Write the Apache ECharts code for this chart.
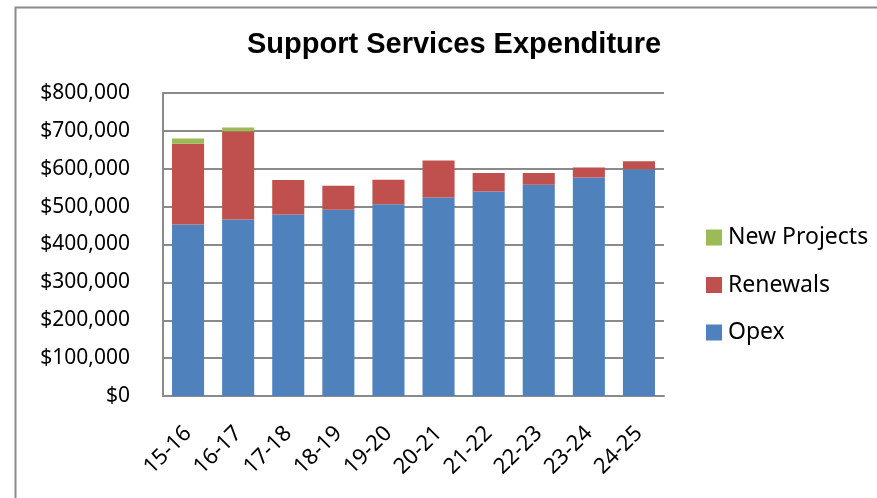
<!DOCTYPE html>
<html>
<head>
<meta charset="utf-8">
<script src="https://cdn.jsdelivr.net/npm/echarts@6/dist/echarts.min.js"></script>
<style>
html,body{margin:0;padding:0;background:#fff;}
#c{width:877px;height:498px;}
</style>
</head>
<body>
<div id="c"></div>
<script>
var categories = ['15-16','16-17','17-18','18-19','19-20','20-21','21-22','22-23','23-24','24-25'];
var opex = [453000, 466000, 479000, 492000, 506000, 524000, 540000, 558000, 577000, 599000];
var renewals = [213000, 233000, 91000, 63000, 65000, 98000, 49000, 31000, 26000, 21000];
var newProjects = [14000, 10000, 0, 0, 0, 0, 0, 0, 0, 0];
var yTicks = [0, 100000, 200000, 300000, 400000, 500000, 600000, 700000, 800000];

var FONT = 'Noto Sans';
var chart = echarts.init(document.getElementById('c'), null, {renderer:'canvas'});
function fmt(v){ return '$' + v.toLocaleString('en-US'); }
chart.setOption({
  animation:false,
  backgroundColor:'#ffffff',
  title:{
    text:'Support Services Expenditure',
    left:247,
    top:30,
    padding:0,
    textStyle:{fontFamily:'Liberation Sans', fontWeight:'bold', fontSize:29, color:'#000'}
  },
  graphic:[{
    type:'rect', left:13, top:5, silent:true,
    shape:{x:0,y:0,width:900,height:600},
    style:{fill:'none', stroke:'#8a8a8a', lineWidth:2}
  }],
  legend:{
    orient:'vertical',
    left:706, top:226, padding:0,
    itemWidth:16, itemHeight:16, itemGap:24.5,
    icon:'rect',
    textStyle:{fontFamily:FONT, fontSize:23, color:'#000', padding:[0,0,0,1]},
    data:['New Projects','Renewals','Opex']
  },
  grid:{left:163, right:213, top:93, bottom:102, containLabel:false},
  xAxis:{
    type:'category', data:categories,
    axisLine:{lineStyle:{color:'#8a8a8a', width:2}},
    axisTick:{show:false},
    axisLabel:{rotate:45, fontFamily:FONT, fontSize:22, color:'#000', margin:34, interval:0}
  },
  yAxis:{
    type:'value', min:yTicks[0], max:yTicks[yTicks.length-1], interval:100000,
    axisLine:{show:true, lineStyle:{color:'#8a8a8a', width:2}},
    axisTick:{show:false},
    splitLine:{lineStyle:{color:'#8a8a8a', width:2}},
    axisLabel:{formatter:fmt, fontFamily:FONT, fontSize:21, color:'#000', margin:33}
  },
  series:[
    {name:'Opex', type:'bar', stack:'s', data:opex, barWidth:'64%', itemStyle:{color:'#4F81BD'}},
    {name:'Renewals', type:'bar', stack:'s', data:renewals, itemStyle:{color:'#C0504D'}},
    {name:'New Projects', type:'bar', stack:'s', data:newProjects, itemStyle:{color:'#9BBB59'}}
  ]
});
</script>
</body>
</html>
